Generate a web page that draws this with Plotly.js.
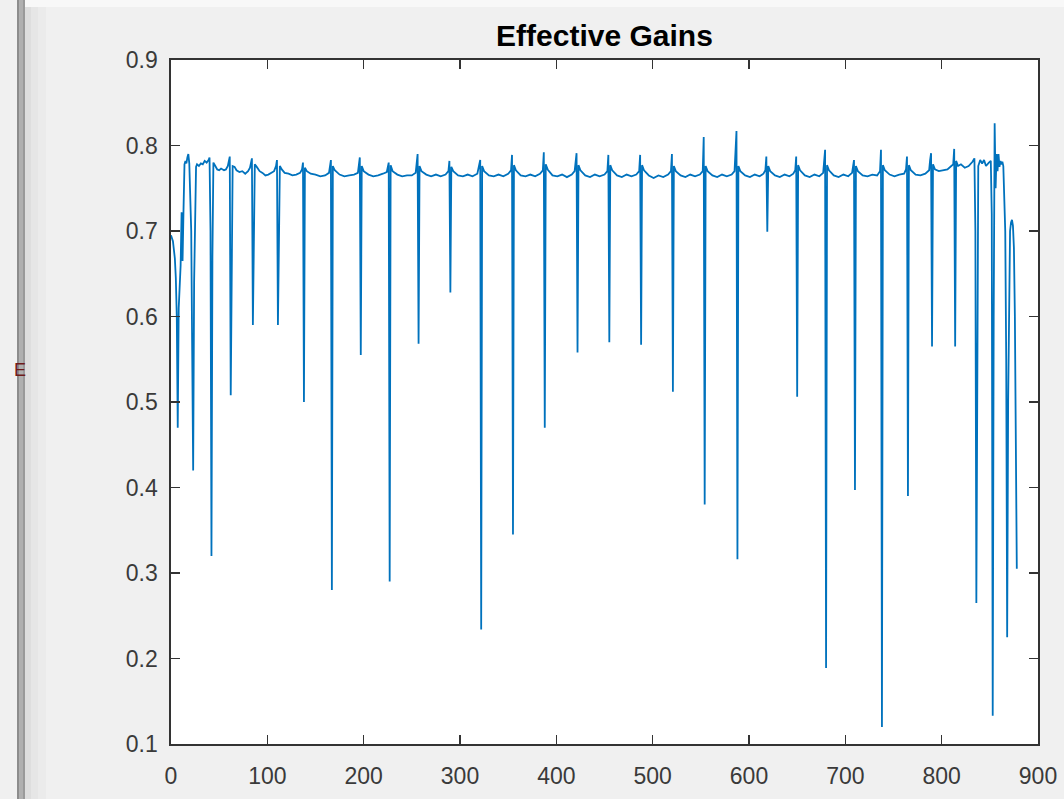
<!DOCTYPE html>
<html>
<head>
<meta charset="utf-8">
<script src="https://cdn.plot.ly/plotly-3.0.1.min.js"></script>
<style>html,body{margin:0;padding:0;background:#f0f0f0;}#chart{width:1064px;height:799px;}</style>
</head>
<body>
<div id="chart"></div>
<script>
// Sample index (x) of each read vertex of the trace
const sampleIdx = [
  0,2,4,5,6,7,8,9,10,11,12,13,14,15,16,17,18,19,20,21,22,23,24,25,26,27,29,31,33,35,37,39,40,41,42,43,44,46,48,50,52,55,57,59,61,62,63,64,66,68,71,74,77,80,82,84,85,86,87,89,92,95,98,101,104,107,109,110,111,112,113,115,118,122,126,130,134,136,137,138,139,141,145,150,155,160,164,166,167,168,170,175,180,185,190,194,196,197,198,200,205,210,215,220,224,226,227,228,230,235,240,245,250,254,256,257,258,260,265,270,275,280,285,288,289,290,291,293,298,303,308,313,318,321,322,323,325,330,335,340,345,350,353,354,355,356,358,363,368,373,378,383,386,387,388,389,391,396,401,406,411,416,419,421,422,423,425,430,435,440,445,450,453,454,455,456,458,463,468,473,478,483,486,487,488,489,491,496,501,506,511,516,519,520,521,522,524,529,534,539,544,549,552,553,554,555,557,562,567,572,577,582,585,587,588,589,591,596,601,606,611,615,617,618,619,620,622,627,632,637,642,646,648,649,650,651,653,658,663,668,673,677,679,680,681,683,688,693,698,703,707,709,710,711,713,718,723,728,733,736,737,738,739,741,746,751,756,761,763,764,765,766,768,773,778,783,787,788,789,790,791,793,797,801,806,810,812,813,814,815,817,820,824,828,832,834,835,836,837,838,840,842,844,846,849,851,852,853,854,855,856,857,858,859,860,861,862,863,864,865,866,867,868,869,870,871,872,873,874,875,876,877,878
];
// Effective gain at each vertex
const gainValue = [
  0.695,0.688,0.668,0.645,0.600,0.470,0.610,0.640,0.660,0.722,0.665,0.725,0.778,0.782,0.779,0.786,0.790,0.779,0.720,0.700,0.560,0.420,0.640,0.705,0.775,0.778,0.776,0.779,0.778,0.782,0.780,0.783,0.786,0.700,0.320,0.670,0.780,0.776,0.772,0.771,0.773,0.771,0.772,0.776,0.787,0.508,0.650,0.776,0.775,0.771,0.769,0.770,0.767,0.770,0.774,0.785,0.590,0.660,0.778,0.775,0.770,0.768,0.765,0.766,0.768,0.770,0.776,0.783,0.590,0.720,0.776,0.772,0.768,0.767,0.765,0.766,0.768,0.772,0.780,0.500,0.774,0.770,0.767,0.766,0.764,0.765,0.768,0.783,0.280,0.776,0.771,0.766,0.764,0.765,0.766,0.768,0.786,0.555,0.776,0.770,0.766,0.764,0.765,0.767,0.769,0.780,0.290,0.777,0.770,0.766,0.764,0.765,0.765,0.768,0.790,0.568,0.776,0.770,0.766,0.764,0.766,0.764,0.766,0.770,0.782,0.628,0.775,0.770,0.765,0.764,0.766,0.764,0.767,0.783,0.234,0.776,0.770,0.765,0.764,0.766,0.764,0.767,0.771,0.789,0.345,0.777,0.771,0.765,0.764,0.766,0.764,0.767,0.771,0.792,0.470,0.778,0.772,0.765,0.764,0.766,0.763,0.766,0.770,0.791,0.558,0.777,0.771,0.765,0.763,0.766,0.764,0.766,0.770,0.789,0.570,0.777,0.771,0.765,0.763,0.766,0.764,0.766,0.770,0.789,0.567,0.777,0.771,0.765,0.762,0.765,0.763,0.766,0.770,0.790,0.512,0.776,0.770,0.765,0.763,0.766,0.764,0.766,0.770,0.810,0.380,0.776,0.770,0.765,0.763,0.766,0.764,0.766,0.770,0.817,0.316,0.776,0.770,0.765,0.763,0.766,0.764,0.767,0.771,0.787,0.699,0.776,0.770,0.765,0.763,0.766,0.764,0.767,0.771,0.787,0.506,0.777,0.771,0.765,0.763,0.766,0.764,0.768,0.795,0.189,0.777,0.771,0.765,0.763,0.766,0.764,0.768,0.783,0.397,0.776,0.770,0.765,0.764,0.766,0.765,0.770,0.795,0.120,0.777,0.771,0.766,0.764,0.766,0.767,0.772,0.787,0.390,0.777,0.771,0.766,0.765,0.767,0.771,0.783,0.791,0.565,0.778,0.772,0.770,0.771,0.772,0.776,0.778,0.796,0.565,0.782,0.776,0.778,0.774,0.776,0.781,0.785,0.700,0.265,0.650,0.776,0.783,0.779,0.783,0.776,0.780,0.782,0.720,0.133,0.600,0.826,0.750,0.790,0.770,0.790,0.775,0.782,0.778,0.781,0.776,0.735,0.700,0.550,0.225,0.500,0.660,0.700,0.710,0.713,0.706,0.680,0.600,0.450,0.305
];
const xTickVals = [0,100,200,300,400,500,600,700,800,900];
const yTickVals = [0.1,0.2,0.3,0.4,0.5,0.6,0.7,0.8,0.9];
const chartTitle = 'Effective Gains';

const L = 171, R = 1038, W = 1064;
const px = v => (v - L) / (R - L);

const axisCommon = {
  showline: true, mirror: 'ticks', linecolor: '#333333', linewidth: 1.6,
  ticks: 'inside', ticklen: 9, tickwidth: 1.6, tickcolor: '#333333',
  showgrid: false, zeroline: false,
  tickfont: {family: 'Liberation Sans, Arial, sans-serif', size: 23, color: '#3a3a3a'}
};

const trace = {
  x: sampleIdx, y: gainValue, type: 'scatter', mode: 'lines',
  line: {color: '#0072BD', width: 1.8}, hoverinfo: 'skip'
};

const layout = {
  width: 1064, height: 799,
  paper_bgcolor: '#f0f0f0', plot_bgcolor: '#ffffff',
  margin: {l: 171, r: 26, t: 60, b: 55},
  showlegend: false,
  title: {text: chartTitle, x: 0.5, xref: 'paper', xanchor: 'center',
          y: 1 - 35/799, yref: 'container', yanchor: 'middle',
          font: {family: 'Liberation Sans, Arial, sans-serif', size: 30, color: '#000000', weight: 'bold'}},
  xaxis: Object.assign({}, axisCommon, {range: [0, 900], tickvals: xTickVals, ticklabelstandoff: 11}),
  yaxis: Object.assign({}, axisCommon, {range: [0.1, 0.9], tickvals: yTickVals, tickformat: '.1f', ticklabelstandoff: 7}),
  shapes: [
    {type: 'rect', xref: 'paper', yref: 'paper', x0: px(25), x1: px(W), y0: 1 + 53/684, y1: 1 + 60/684, fillcolor: '#f8f8f8', line: {width: 0}, layer: 'below'},
    {type: 'rect', xref: 'paper', yref: 'paper', x0: px(17), x1: px(19), y0: -55/684, y1: 1 + 60/684, fillcolor: '#8c8c8c', line: {width: 0}},
    {type: 'rect', xref: 'paper', yref: 'paper', x0: px(19), x1: px(23), y0: -55/684, y1: 1 + 60/684, fillcolor: '#b0b0b0', line: {width: 0}},
    {type: 'rect', xref: 'paper', yref: 'paper', x0: px(23), x1: px(25), y0: -55/684, y1: 1 + 60/684, fillcolor: '#9a9a9a', line: {width: 0}},
    {type: 'rect', xref: 'paper', yref: 'paper', x0: px(25), x1: px(31), y0: -55/684, y1: 1 + 53/684, fillcolor: '#dedede', line: {width: 0}},
    {type: 'rect', xref: 'paper', yref: 'paper', x0: px(31), x1: px(38), y0: -55/684, y1: 1 + 53/684, fillcolor: '#e6e6e6', line: {width: 0}},
    {type: 'rect', xref: 'paper', yref: 'paper', x0: px(38), x1: px(46), y0: -55/684, y1: 1 + 53/684, fillcolor: '#ebebeb', line: {width: 0}}
  ],
  annotations: [
    {text: 'E', xref: 'paper', yref: 'paper', x: px(12), y: 1 - (370-60)/684, xanchor: 'left', yanchor: 'middle',
     showarrow: false, font: {family: 'Liberation Sans, Arial, sans-serif', size: 18, color: '#6e1a1a'}}
  ]
};

Plotly.newPlot('chart', [trace], layout, {displayModeBar: false, staticPlot: true});
</script>
</body>
</html>
